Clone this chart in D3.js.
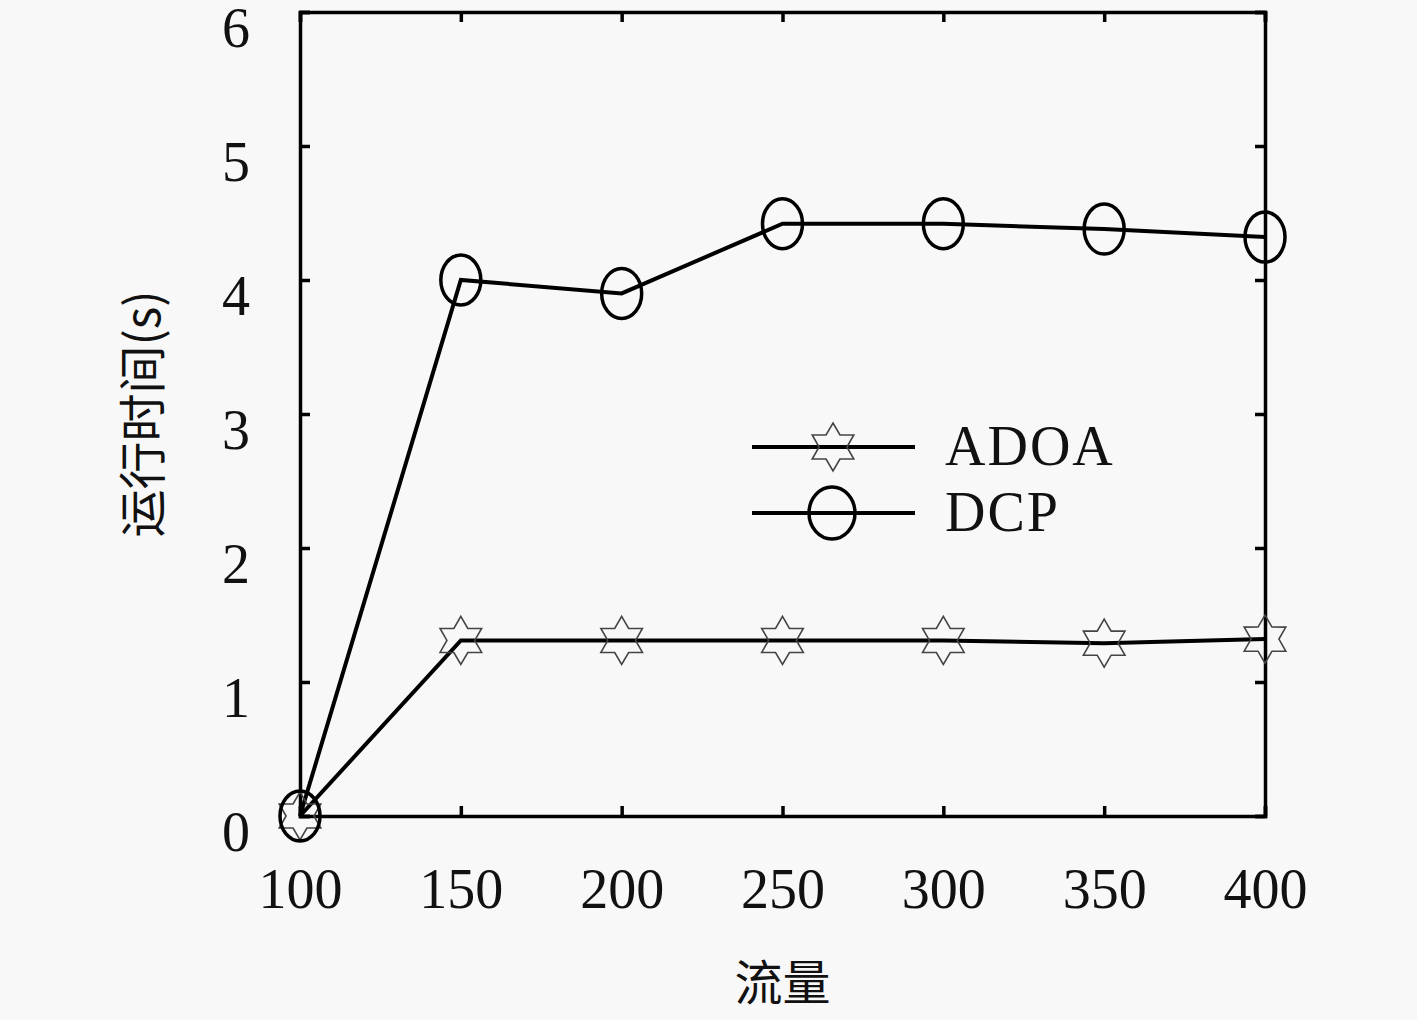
<!DOCTYPE html>
<html>
<head>
<meta charset="utf-8">
<script src="https://cdn.jsdelivr.net/npm/d3@7"></script>
<style>
  body { margin: 0; background: #f8f8f8; }
  svg { display: block; }
</style>
</head>
<body>
<div id="chart"></div>
<script>
// data
const flows = [100, 150, 200, 250, 300, 350, 400];
const adoa = [0, 1.31, 1.31, 1.31, 1.31, 1.29, 1.32];
const dcp = [0, 4.00, 3.90, 4.42, 4.42, 4.38, 4.32];
const yTicks = [0, 1, 2, 3, 4, 5, 6];
const seriesNames = ["ADOA", "DCP"];

const width = 1417;
const height = 1020;
const svg = d3.select("#chart")
  .append("svg")
  .attr("width", width)
  .attr("height", height)
  .style("background", "#f8f8f8");

const serif = "'Liberation Serif', 'DejaVu Serif', serif";
const cjk = "'Noto Sans CJK SC', sans-serif";

// scales
const x = d3.scaleLinear().domain([100, 400]).range([300, 1265]);
const y = d3.scaleLinear().domain([0, 6]).range([816, 12]);

// axes, ticks pointing inward on all four sides
const tickLen = 10;
svg.append("g")
  .attr("class", "xaxis")
  .attr("transform", `translate(0, ${y(0)})`)
  .call(d3.axisBottom(x).tickValues(flows).tickSize(-tickLen).tickPadding(52).tickFormat(d3.format("d")));
svg.append("g")
  .attr("transform", `translate(0, ${y(6)})`)
  .call(d3.axisTop(x).tickValues(flows).tickSize(-tickLen).tickFormat(""));
svg.append("g")
  .attr("class", "yaxis")
  .attr("transform", `translate(${x(100)}, 0)`)
  .call(d3.axisLeft(y).tickValues(yTicks).tickSize(-tickLen).tickPadding(50).tickFormat(d3.format("d")));
svg.append("g")
  .attr("transform", `translate(${x(400)}, 0)`)
  .call(d3.axisRight(y).tickValues(yTicks).tickSize(-tickLen).tickFormat(""));

svg.selectAll(".domain, .tick line")
  .attr("stroke", "#000")
  .attr("stroke-width", 3.5);
svg.selectAll(".tick text")
  .attr("fill", "#111")
  .style("font-family", serif)
  .style("font-size", "56px");
svg.selectAll(".yaxis .tick text").attr("dy", "0.62em");

// axis labels
svg.append("text")
  .attr("x", x(250))
  .attr("y", 1000)
  .attr("text-anchor", "middle")
  .style("font-family", cjk)
  .style("font-size", "48px")
  .attr("fill", "#111")
  .text("流量");
svg.append("text")
  .attr("transform", "rotate(-90)")
  .attr("x", -414)
  .attr("y", 160)
  .attr("text-anchor", "middle")
  .style("font-family", cjk)
  .style("font-size", "48px")
  .attr("fill", "#111")
  .text("运行时间(s)");

// six-pointed star outline
function starPath(cx, cy, r) {
  const pts = [];
  for (let i = 0; i < 12; i++) {
    const a = -Math.PI / 2 + i * Math.PI / 6;
    const rr = i % 2 === 0 ? r : r * 0.58;
    pts.push([cx + rr * Math.cos(a), cy + rr * Math.sin(a)]);
  }
  return "M" + pts.map(p => p.join(",")).join("L") + "Z";
}

const line = d3.line()
  .x(d => x(d[0]))
  .y(d => y(d[1]));

const adoaData = flows.map((f, i) => [f, adoa[i]]);
const dcpData = flows.map((f, i) => [f, dcp[i]]);

// lines
[adoaData, dcpData].forEach(data => {
  svg.append("path")
    .datum(data)
    .attr("d", line)
    .attr("fill", "none")
    .attr("stroke", "#000")
    .attr("stroke-width", 4)
    .attr("stroke-linejoin", "miter");
});

// markers
svg.append("g")
  .selectAll("path")
  .data(adoaData)
  .enter().append("path")
  .attr("d", d => starPath(x(d[0]), y(d[1]), 24))
  .attr("fill", "none")
  .attr("stroke", "#444")
  .attr("stroke-width", 1.6);

svg.append("g")
  .selectAll("ellipse")
  .data(dcpData)
  .enter().append("ellipse")
  .attr("cx", d => x(d[0]))
  .attr("cy", d => y(d[1]))
  .attr("rx", 20)
  .attr("ry", 25)
  .attr("fill", "none")
  .attr("stroke", "#000")
  .attr("stroke-width", 3.5);

// legend
const legend = svg.append("g");
seriesNames.forEach((name, i) => {
  const ly = 447 + i * 66;
  legend.append("line")
    .attr("x1", 752).attr("x2", 915)
    .attr("y1", ly).attr("y2", ly)
    .attr("stroke", "#000")
    .attr("stroke-width", 4);
  if (name === "ADOA") {
    legend.append("path")
      .attr("d", starPath(833, ly, 24))
      .attr("fill", "none")
      .attr("stroke", "#444")
      .attr("stroke-width", 1.6);
  } else {
    legend.append("ellipse")
      .attr("cx", 832).attr("cy", ly)
      .attr("rx", 23).attr("ry", 26)
      .attr("fill", "none")
      .attr("stroke", "#000")
      .attr("stroke-width", 3.5);
  }
  legend.append("text")
    .attr("x", 945)
    .attr("y", ly + 18)
    .style("font-family", serif)
    .style("font-size", "56px")
    .style("letter-spacing", "2px")
    .attr("fill", "#111")
    .text(name);
});
</script>
</body>
</html>
